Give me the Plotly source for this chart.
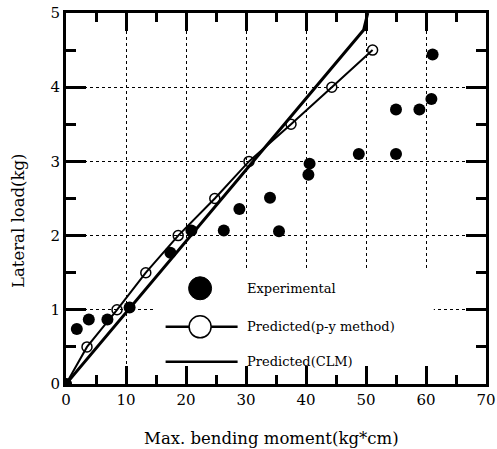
import plotly.graph_objects as go

# Experimental data
exp_x = [0, 1.8, 3.8, 6.9, 10.6, 17.4, 20.9, 26.3, 28.9, 34.0, 35.5, 40.4, 40.6, 48.8, 55.0, 55.0, 58.9, 60.9, 61.1]
exp_y = [0, 0.74, 0.87, 0.87, 1.03, 1.77, 2.07, 2.07, 2.36, 2.51, 2.06, 2.82, 2.97, 3.10, 3.10, 3.70, 3.70, 3.84, 4.44]

# Predicted (p-y method)
py_x = [0, 3.5, 8.5, 13.3, 18.7, 24.8, 30.5, 37.5, 44.3, 51.1]
py_y = [0, 0.5, 1.0, 1.5, 2.0, 2.5, 3.0, 3.5, 4.0, 4.5]

# Predicted (CLM)
clm_x = [0, 49.6, 50.3]
clm_y = [0, 4.77, 5.0]

x_ticks = [0, 10, 20, 30, 40, 50, 60, 70]
y_ticks = [0, 1, 2, 3, 4, 5]

legend_labels = ["Experimental", "Predicted(p-y method)", "Predicted(CLM)"]
x_title = "Max. bending moment(kg*cm)"
y_title = "Lateral load(kg)"

FONT = "DejaVu Serif"
W, H = 497, 449
ML, MR, MT, MB = 66, 11, 13, 65
PW, PH = W - ML - MR, H - MT - MB

fig = go.Figure()
fig.add_trace(go.Scatter(x=clm_x, y=clm_y, mode="lines",
                         line=dict(color="black", width=3), showlegend=False))
fig.add_trace(go.Scatter(x=py_x, y=py_y, mode="lines+markers",
                         line=dict(color="black", width=2),
                         marker=dict(symbol="circle-open", size=10, color="black",
                                     line=dict(width=1.5)),
                         showlegend=False))
fig.add_trace(go.Scatter(x=exp_x, y=exp_y, mode="markers",
                         marker=dict(symbol="circle", size=12, color="black"),
                         showlegend=False))

# legend background (covers grid)
fig.add_shape(type="rect", xref="x", yref="y", x0=14.6, x1=61.3, y0=0.03, y1=1.56,
              fillcolor="white", line=dict(width=0), layer="between")
# legend symbols
lx = 22.35
rows_y = [1.29, 0.77, 0.30]
fig.add_shape(type="circle", xref="x", yref="y", xsizemode="pixel", ysizemode="pixel",
              xanchor=lx, yanchor=rows_y[0], x0=-11.5, x1=11.5, y0=-11.5, y1=11.5,
              fillcolor="black", line=dict(color="black", width=1), layer="above")
fig.add_shape(type="line", xref="x", yref="y", x0=16.6, x1=28.6, y0=rows_y[1], y1=rows_y[1],
              line=dict(color="black", width=2.5), layer="above")
fig.add_shape(type="circle", xref="x", yref="y", xsizemode="pixel", ysizemode="pixel",
              xanchor=lx, yanchor=rows_y[1], x0=-11, x1=11, y0=-11, y1=11,
              fillcolor="white", line=dict(color="black", width=1.5), layer="above")
fig.add_shape(type="line", xref="x", yref="y", x0=16.6, x1=28.6, y0=rows_y[2], y1=rows_y[2],
              line=dict(color="black", width=2.5), layer="above")
for lab, ry in zip(legend_labels, rows_y):
    fig.add_annotation(x=29.9, y=ry, xref="x", yref="y", text=lab, showarrow=False,
                       xanchor="left", yanchor="middle",
                       font=dict(family=FONT, size=13, color="black"))

# axis titles as annotations (paper coords)
fig.add_annotation(text=x_title, xref="paper", yref="paper",
                   x=(271 - ML) / PW, y=-(438 - MT - PH) / PH,
                   xanchor="center", yanchor="middle", showarrow=False,
                   font=dict(family=FONT, size=16.5, color="black"))
fig.add_annotation(text=y_title, xref="paper", yref="paper", textangle=-90,
                   x=(18 - ML) / PW, y=1 - (221 - MT) / PH,
                   xanchor="center", yanchor="middle", showarrow=False,
                   font=dict(family=FONT, size=16.5, color="black"))

axis_common = dict(
    showline=True, linecolor="black", linewidth=3, mirror="ticks",
    ticks="inside", tickcolor="black", tickwidth=2.5,
    showgrid=True, gridcolor="black", gridwidth=1.3, griddash="dot",
    zeroline=False, ticklabeloverflow="allow",
    tickfont=dict(family=FONT, size=15, color="black"),
)

fig.update_xaxes(range=[0, 70], tickvals=x_ticks, ticklen=18,
                 minor=dict(dtick=5, ticks="inside", ticklen=9, tickcolor="black",
                            tickwidth=2.5, showgrid=False),
                 **axis_common)
fig.update_yaxes(range=[0, 5], tickvals=y_ticks, ticklen=20,
                 minor=dict(dtick=0.5, ticks="inside", ticklen=10, tickcolor="black",
                            tickwidth=2.5, showgrid=False),
                 **axis_common)

fig.update_layout(width=W, height=H,
                  margin=dict(l=ML, r=MR, t=MT, b=MB, autoexpand=False),
                  plot_bgcolor="white", paper_bgcolor="white",
                  showlegend=False)

fig.write_html("out.html")
